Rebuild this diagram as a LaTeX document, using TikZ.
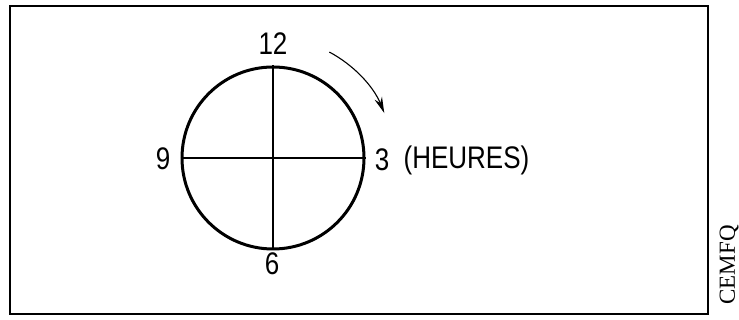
\documentclass[tikz,border=0pt]{standalone}
\usepackage{fontspec}
\setmainfont{Liberation Serif}
\newfontfamily\cadfont{Liberation Sans}
\usetikzlibrary{positioning,arrows.meta}

\tikzset{
  hour/.style={font=\cadfont\fontsize{26}{26}\selectfont, inner sep=1pt, yscale=1.2, transform shape},
  face/.style={circle, draw, line width=3pt, minimum size=182pt, inner sep=0pt},
  axis/.style={line width=1.3pt},
}

\begin{document}
\begin{tikzpicture}[x=1pt, y=1pt, >={Stealth[length=16pt,width=8pt]}]
        \useasboundingbox (0,0) rectangle (739,320);
        % cadre
        \draw[line width=1.6pt] (10,6) rectangle (708,314);
        % cadran
        \node[face] (clock) at (273,162){};
        \draw[axis] (clock.north)--(clock.south);
        \draw[axis] (clock.west)--(clock.east);
        \node[hour] (h12) at (273,276){12};
        \node[hour] (h9) at (163,161){9};
        \node[hour] (h3) at (382,160){3};
        \node[hour] (h6) at (272,56){6};
        \node[hour, right=12pt of h3] (unit){(HEURES)};
        % sens de rotation
        \draw[->, line width=1.1pt] ([shift={(62:120)}]clock.center) arc[start angle=62, end angle=22, radius=120];
        \node[font=\fontsize{23}{23}\selectfont, rotate=90] (src) at (729,55){CEMFQ};
      \end{tikzpicture}
\end{document}
